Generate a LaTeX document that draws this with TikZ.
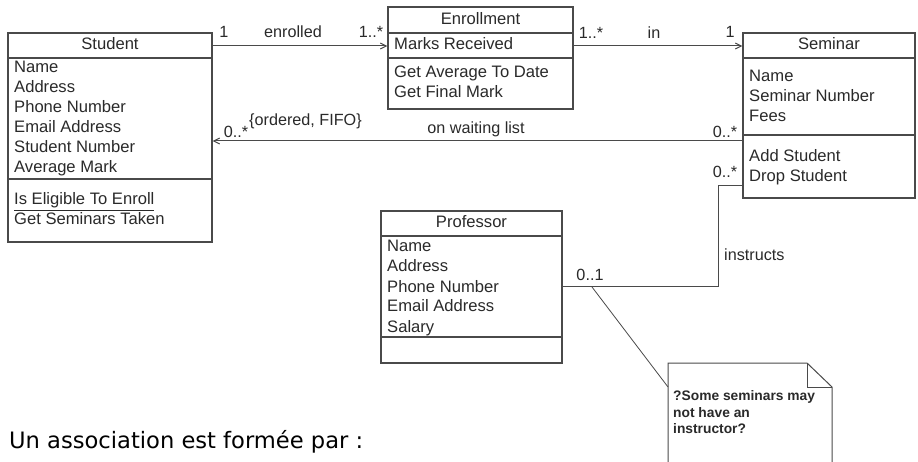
\documentclass[tikz,border=0pt]{standalone}
\usepackage{fontspec}
\setmainfont{Liberation Sans}
\newfontfamily\botfont{DejaVu Sans}
\usetikzlibrary{arrows.meta}
\definecolor{ln}{HTML}{4A4A4A}
\definecolor{tx}{HTML}{2A2A2A}
\tikzset{
  classbox/.style={draw=ln, line width=1.1pt, rectangle, inner sep=0pt, fill=white},
  sepline/.style={draw=ln, line width=1.1pt},
  assoc/.style={draw=ln, line width=1pt},
  navarrow/.style={assoc, -{Straight Barb[length=6pt,width=6pt]}},
  txt/.style={anchor=base west, inner sep=0pt, text=tx, font=\fontsize{16.6}{20}\selectfont},
  ttl/.style={anchor=base, inner sep=0pt, text=tx, font=\fontsize{16.6}{20}\selectfont},
  lbl/.style={anchor=base, inner sep=0pt, text=tx, font=\fontsize{16.2}{18}\selectfont},
  notetxt/.style={anchor=base west, inner sep=0pt, text=tx, font=\bfseries\fontsize{13.8}{16}\selectfont},
}
\begin{document}
\begin{tikzpicture}[x=1pt,y=-1pt]
\useasboundingbox (0,0) rectangle (918,462);
\fill[white] (0,0) rectangle (918,462);

% ---- Student ----
\node[classbox, minimum width=204pt, minimum height=209pt] (student) at (110,137.5) {};
\draw[sepline] (student.west |- 0,58) -- (student.east |- 0,58);
\draw[sepline] (student.west |- 0,179) -- (student.east |- 0,179);
\node[ttl] (studentT) at (110,50) {Student};
\node[txt] (s1) at (14,73) {Name};
\node[txt] (s2) at (14,93) {Address};
\node[txt] (s3) at (14,113) {Phone Number};
\node[txt] (s4) at (14,133) {Email Address};
\node[txt] (s5) at (14,153) {Student Number};
\node[txt] (s6) at (14,173) {Average Mark};
\node[txt] (s7) at (14,205) {\underline{Is Eligible To Enroll}};
\node[txt] (s8) at (14,225) {Get Seminars Taken};

% ---- Enrollment ----
\node[classbox, minimum width=185pt, minimum height=102pt] (enroll) at (480.5,58) {};
\draw[sepline] (enroll.west |- 0,33) -- (enroll.east |- 0,33);
\draw[sepline] (enroll.west |- 0,58) -- (enroll.east |- 0,58);
\node[ttl] (enrollT) at (480.5,25) {Enrollment};
\node[txt] (e1) at (394,50) {Marks Received};
\node[txt] (e2) at (394,78) {Get Average To Date};
\node[txt] (e3) at (394,98) {Get Final Mark};

% ---- Seminar ----
\node[classbox, minimum width=172pt, minimum height=165pt] (seminar) at (829,115.5) {};
\draw[sepline] (seminar.west |- 0,58) -- (seminar.east |- 0,58);
\draw[sepline] (seminar.west |- 0,135) -- (seminar.east |- 0,135);
\node[ttl] (seminarT) at (829,50) {Seminar};
\node[txt] (m1) at (749,82) {Name};
\node[txt] (m2) at (749,102) {Seminar Number};
\node[txt] (m3) at (749,122) {Fees};
\node[txt] (m4) at (749,162) {Add Student};
\node[txt] (m5) at (749,182) {Drop Student};

% ---- Professor ----
\node[classbox, minimum width=181pt, minimum height=152pt] (prof) at (471.5,287) {};
\draw[sepline] (prof.west |- 0,236) -- (prof.east |- 0,236);
\draw[sepline] (prof.west |- 0,337) -- (prof.east |- 0,337);
\node[ttl] (profT) at (471.5,228) {Professor};
\node[txt] (p1) at (387,252) {Name};
\node[txt] (p2) at (387,272) {Address};
\node[txt] (p3) at (387,292) {Phone Number};
\node[txt] (p4) at (387,312) {Email Address};
\node[txt] (p5) at (387,332) {Salary};

% ---- enrolled ----
\draw[navarrow] (student.east |- 0,46) -- (enroll.west |- 0,46);
\node[lbl] (en1) at (224,38) {1};
\node[lbl] (enl) at (293,38) {enrolled};
\node[lbl] (en2) at (371,38) {1..*};

% ---- in ----
\draw[navarrow] (enroll.east |- 0,46) -- (seminar.west |- 0,46);
\node[lbl] (in1) at (591,39) {1..*};
\node[lbl] (inl) at (654,39) {in};
\node[lbl] (in2) at (730,38) {1};

% ---- waiting list ----
\draw[navarrow] (seminar.west |- 0,141) -- (student.east |- 0,141);
\node[lbl] (wl1) at (236,138) {0..*};
\node[lbl, anchor=base west] (wlc) at (249,126) {\{ordered, FIFO\}};
\node[lbl] (wll) at (476,134) {on waiting list};
\node[lbl] (wl2) at (725,138) {0..*};

% ---- instructs ----
\coordinate (ic) at (718,287);
\draw[assoc] (seminar.west |- 0,186) -| (ic) -- (prof.east |- ic);
\node[lbl] (is1) at (725,178) {0..*};
\node[lbl, anchor=base west] (isl) at (724,261) {instructs};
\node[lbl] (is2) at (590,281) {0..1};

% ---- note ----
\coordinate (nTL) at (668,363);
\coordinate (nF) at (807,363);
\coordinate (nR) at (832,387);
\coordinate (nAttach) at (668,387);
\draw[draw=ln, line width=1pt, fill=white] (668,470) -- (nTL) -- (nF) -- (nR) -- (832,470);
\draw[draw=ln, line width=1pt] (nF) -- (807,387) -- (nR);
\coordinate (anchorLine) at (592,287);
\draw[assoc, line width=0.8pt] (anchorLine) -- (nAttach);
\node[notetxt] (n1) at (673,400) {?Some seminars may};
\node[notetxt] (n2) at (673,417) {not have an};
\node[notetxt] (n3) at (673,433) {instructor?};

% ---- caption ----
\node[anchor=base west, inner sep=0pt, font=\botfont\fontsize{22.6}{26}\selectfont] (cap) at (9,448) {Un association est formée par :};
\end{tikzpicture}
\end{document}
